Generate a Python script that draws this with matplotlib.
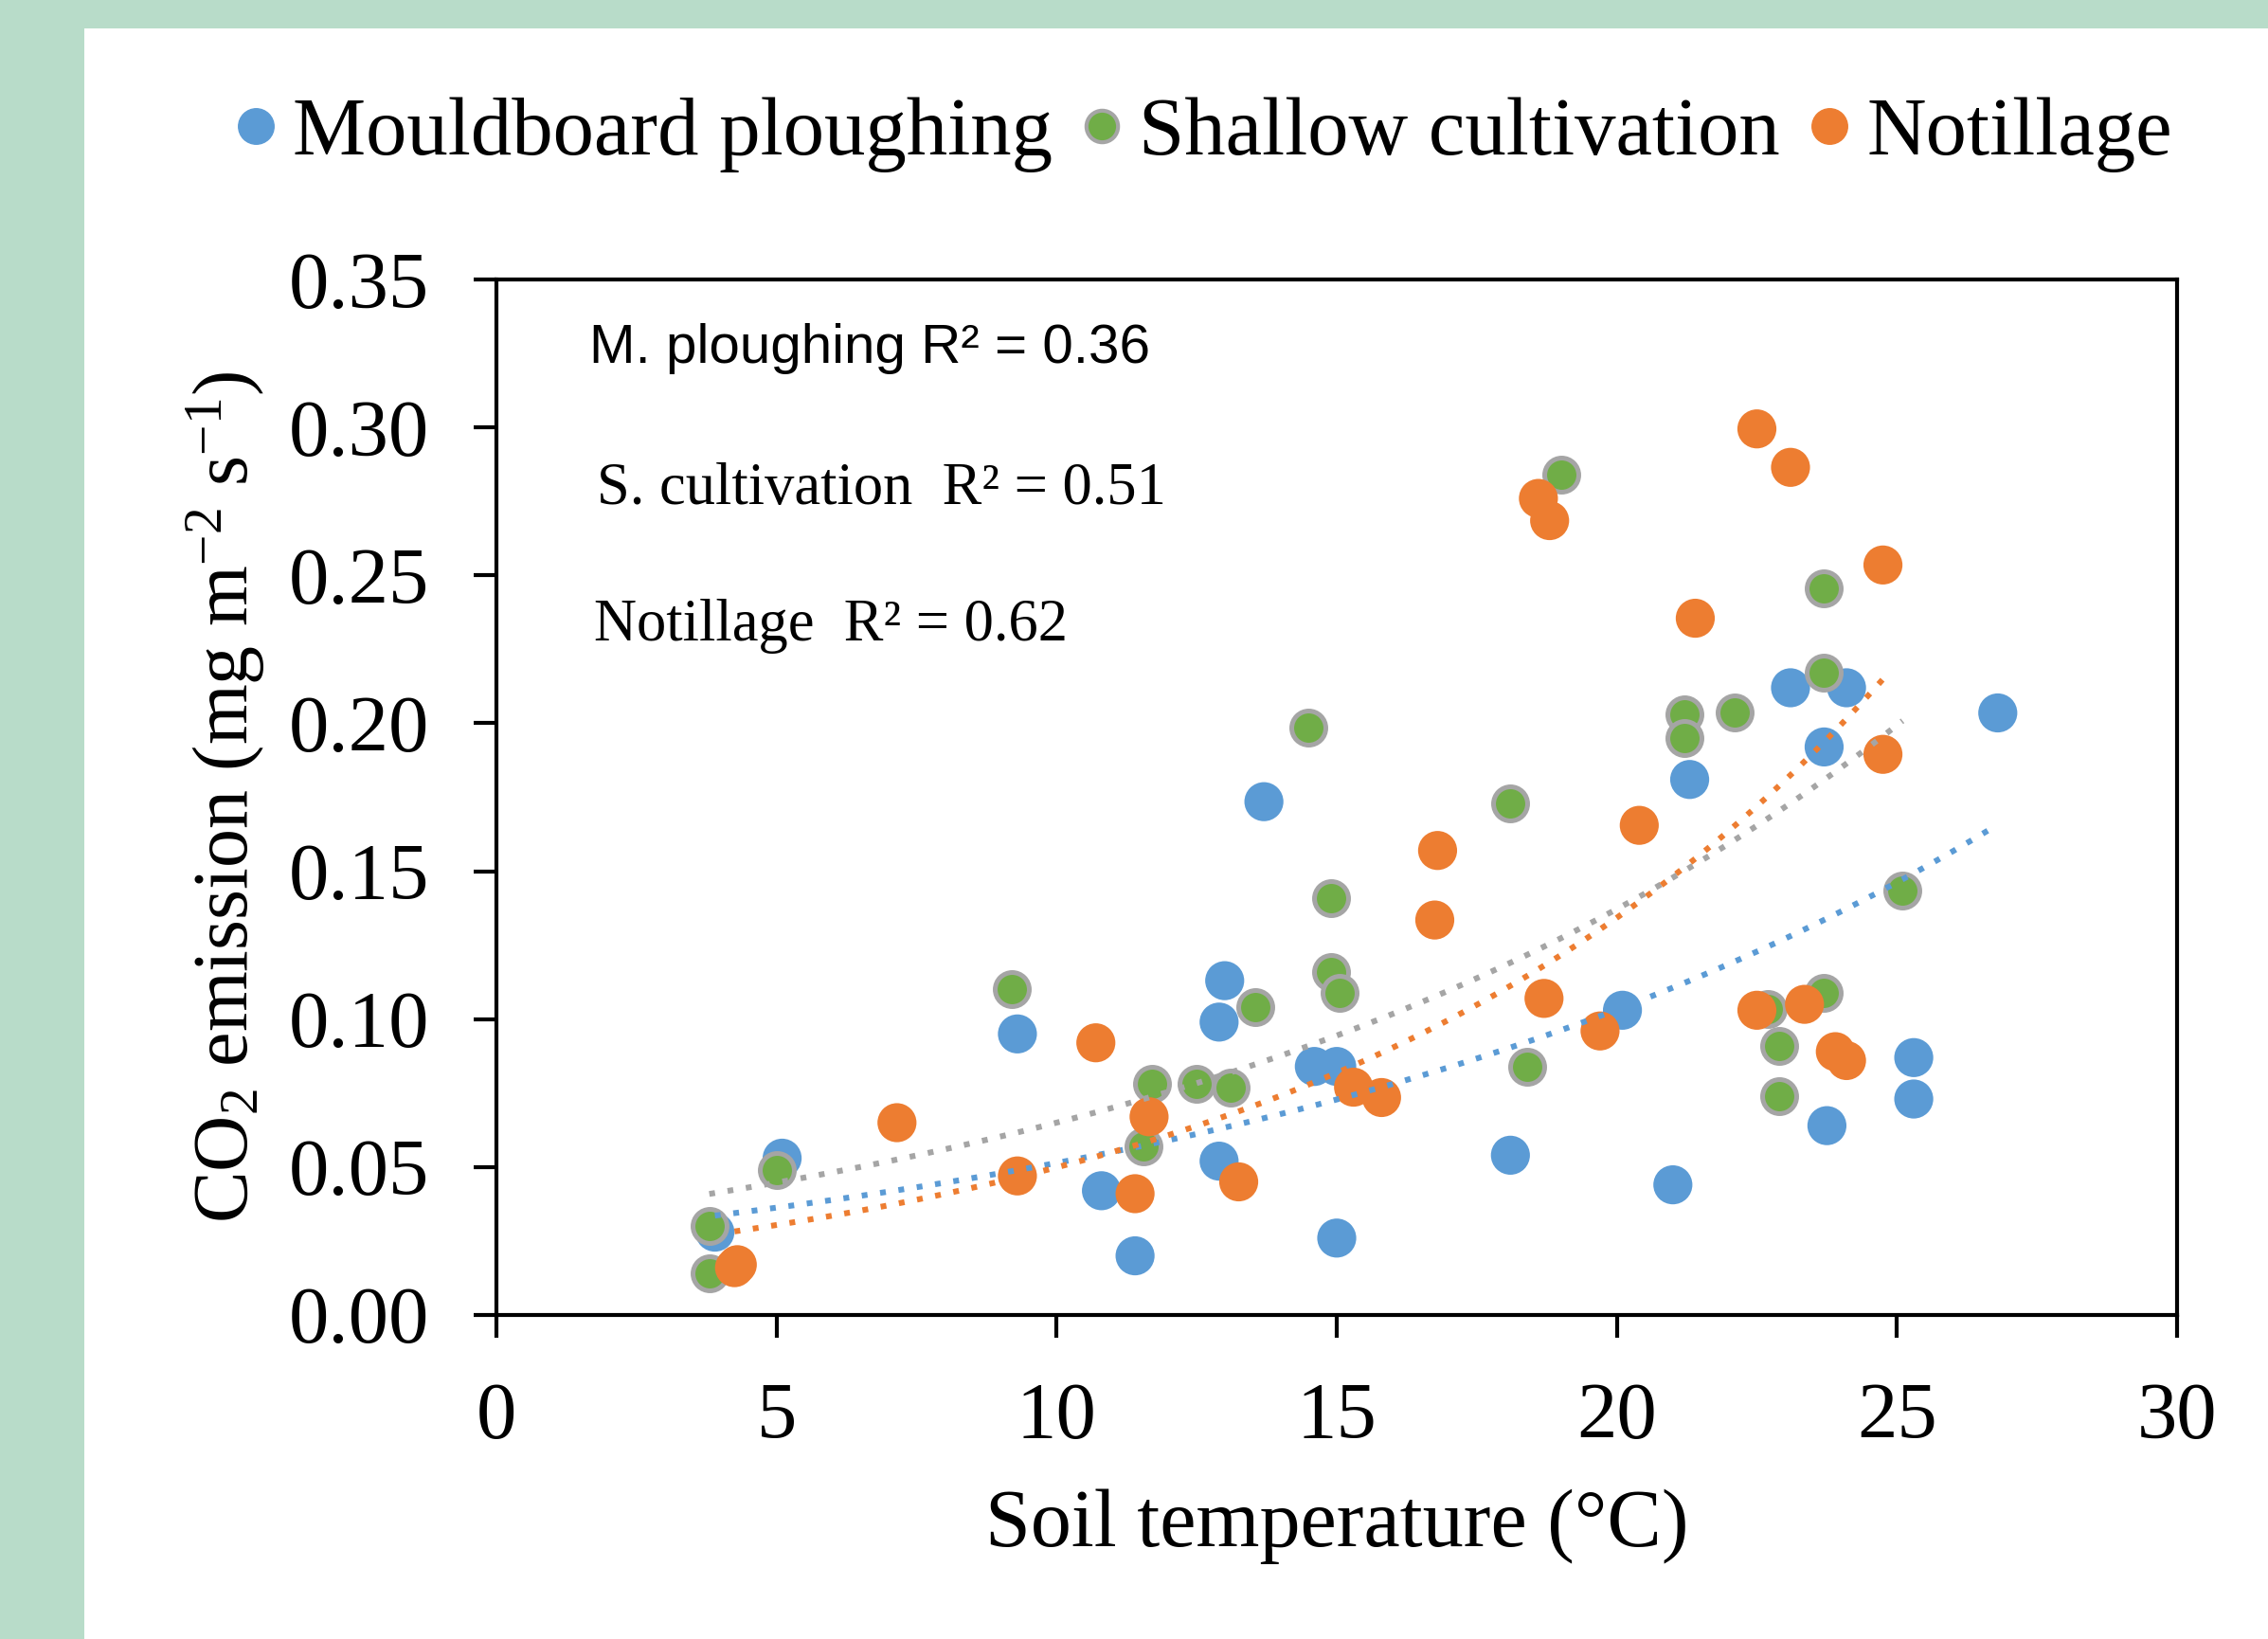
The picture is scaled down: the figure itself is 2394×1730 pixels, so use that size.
import numpy as np
import matplotlib
matplotlib.use("Agg")
import matplotlib.pyplot as plt
from matplotlib.lines import Line2D

# ---------------- data ----------------
mp_temp = [3.9, 5.1, 9.3, 10.8, 11.4, 13.0, 12.9, 12.9, 13.7, 14.6, 15.0, 15.0,
           18.1, 20.1, 21.0, 21.3, 23.1, 24.1, 23.7, 23.75, 25.3, 25.3, 26.8]
mp_co2 = [0.028, 0.053, 0.095, 0.042, 0.020, 0.113, 0.099, 0.052, 0.1735, 0.084, 0.084, 0.026,
          0.054, 0.103, 0.044, 0.181, 0.212, 0.212, 0.192, 0.064, 0.073, 0.087, 0.2035]

sc_temp = [3.8, 3.8, 5.0, 9.2, 11.7, 11.55, 12.5, 13.1, 13.55, 14.5, 14.9, 14.9, 15.05,
           18.1, 18.4, 19.0, 21.2, 21.2, 22.1, 22.7, 22.9, 22.9, 23.7, 23.7, 23.7, 25.1]
sc_co2 = [0.030, 0.014, 0.049, 0.110, 0.078, 0.057, 0.078, 0.077, 0.104, 0.1985, 0.141, 0.116, 0.109,
          0.173, 0.084, 0.284, 0.203, 0.195, 0.2035, 0.1035, 0.091, 0.074, 0.2455, 0.217, 0.109, 0.1435]

nt_temp = [4.25, 4.3, 7.15, 9.3, 10.7, 11.4, 11.65, 13.25, 15.3, 15.8, 16.75, 16.8,
           18.6, 18.8, 18.7, 19.7, 20.4, 21.4, 22.5, 23.35, 22.5, 23.1, 23.9, 24.1, 24.75, 24.75]
nt_co2 = [0.016, 0.017, 0.065, 0.047, 0.092, 0.041, 0.067, 0.045, 0.077, 0.0735, 0.1335, 0.157,
          0.276, 0.2685, 0.107, 0.096, 0.1655, 0.2355, 0.103, 0.105, 0.2995, 0.2865, 0.089, 0.086, 0.2535, 0.1895]

# exponential trendlines y = a * exp(b * x), coefficients
trend_a = [0.0256, 0.0308, 0.01854]   # M. ploughing, S. cultivation, Notillage
trend_b = [0.0697, 0.0747, 0.0990]

series_names = ["Mouldboard ploughing", "Shallow cultivation", "Notillage"]
r2_labels = ["M. ploughing R\u00b2 = 0.36", "S. cultivation  R\u00b2 = 0.51", "Notillage  R\u00b2 = 0.62"]
x_ticks = [0, 5, 10, 15, 20, 25, 30]
y_ticks = [0.00, 0.05, 0.10, 0.15, 0.20, 0.25, 0.30, 0.35]

# ---------------- style ----------------
blue = "#5b9bd5"
green = "#70ad47"
gray = "#a5a5a5"
orange = "#ed7d31"
mint = "#b8dcc9"

plt.rcParams["font.family"] = ["Liberation Serif", "DejaVu Serif"]
plt.rcParams["mathtext.fontset"] = "custom"
plt.rcParams["mathtext.rm"] = "Liberation Serif"
plt.rcParams["mathtext.it"] = "Liberation Serif:italic"

W, H = 2394, 1730
fig = plt.figure(figsize=(W / 100, H / 100), dpi=100)
fig.patch.set_facecolor(mint)
fig.add_artist(plt.Rectangle((89 / W, 0), 1 - 89 / W, 1 - 30 / H, transform=fig.transFigure,
                             facecolor="white", edgecolor="none", zorder=0))

ax = fig.add_axes([524 / W, 1 - 1388 / H, (2298 - 524) / W, (1388 - 295) / H])
ax.set_facecolor("white")
ax.set_xlim(0, 30)
ax.set_ylim(0, 0.35)

ax.scatter(mp_temp, mp_co2, s=880, c=blue, edgecolors="none", zorder=3)
ax.scatter(sc_temp, sc_co2, s=670, c=green, edgecolors=gray, linewidths=3.6, zorder=3)
ax.scatter(nt_temp, nt_co2, s=880, c=orange, edgecolors="none", zorder=3)

for xs, a, b, col in [(mp_temp, trend_a[0], trend_b[0], blue),
                      (sc_temp, trend_a[1], trend_b[1], gray),
                      (nt_temp, trend_a[2], trend_b[2], orange)]:
    xx = np.linspace(min(xs), max(xs), 200)
    ax.plot(xx, a * np.exp(b * xx), color=col, lw=4.4,
            linestyle=(0, (1, 2.2)), zorder=4)

for s in ax.spines.values():
    s.set_linewidth(3)
    s.set_color("black")
ax.set_xticks(x_ticks)
ax.set_yticks(y_ticks)
ax.set_xticklabels([str(t) for t in x_ticks])
ax.set_yticklabels(["%.2f" % t for t in y_ticks])
ax.tick_params(direction="out", length=17, width=3, labelsize=61, pad=34, colors="black")

ax.set_xlabel("Soil temperature (\u00b0C)", fontsize=62, labelpad=26)
ax.set_ylabel(r"CO$_2$ emission (mg m$^{\mathrm{-2}}$ s$^{\mathrm{-1}}$)", fontsize=59, labelpad=16)

ax.text(1.65, 0.3265, r2_labels[0], fontsize=42, va="center", ha="left",
        family=["Liberation Sans Narrow", "Liberation Sans", "DejaVu Sans"])
ax.text(1.8, 0.279, r2_labels[1], fontsize=45, va="center", ha="left")
ax.text(1.75, 0.2327, r2_labels[2], fontsize=45, va="center", ha="left")

handles = [
    Line2D([], [], marker="o", ls="none", ms=27, mfc=blue, mec=blue),
    Line2D([], [], marker="o", ls="none", ms=24, mfc=green, mec=gray, mew=3),
    Line2D([], [], marker="o", ls="none", ms=27, mfc=orange, mec=orange),
]
fig.legend(handles, series_names, loc="center", bbox_to_anchor=(0.528, 1 - 142 / H), ncol=3,
           frameon=False, fontsize=62.5, handletextpad=0.05, columnspacing=0.2, handlelength=0.8)

fig.savefig("out.png", dpi=100, facecolor=fig.get_facecolor())
